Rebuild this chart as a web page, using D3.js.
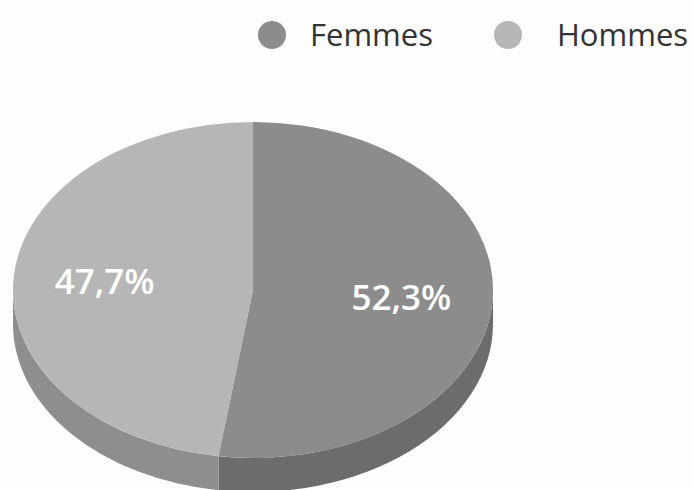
<!doctype html>
<html>
  <head>
    <meta charset="utf-8">
    <script src="https://d3js.org/d3.v7.min.js"></script>
    <style>
      body { margin: 0; background: #fdfdfd; }
      svg { display: block; }
      text { font-family: "Open Sans", "Noto Sans", sans-serif; }
    </style>
  </head>
  <body>
    <svg id="chart" width="694" height="490"></svg>
    <script>
      // data
      var categories = ["Femmes", "Hommes"];
      var values = [52.3, 47.7];
      var labels = ["52,3%", "47,7%"];

      var topColours = ["#8c8c8c", "#b6b6b6"];
      var wallColours = ["#6c6c6c", "#8e8e8e"];

      var svg = d3.select("svg#chart");

      // ellipse of the top face
      var cx = 253, cy = 290, rx = 240, ry = 168, depth = 34;

      function pt(a, dy) {
        return [cx + rx * Math.sin(a), cy - ry * Math.cos(a) + (dy || 0)];
      }

      var pie = d3.pie().sort(null).value(d => d.value);
      var slices = pie(categories.map((c, i) => ({ name: c, value: values[i], label: labels[i], i: i })));

      // side wall (only the front half is visible)
      var walls = svg.append("g");
      slices.forEach(function(d) {
        var s = Math.max(d.startAngle, Math.PI / 2);
        var e = Math.min(d.endAngle, 3 * Math.PI / 2);
        if (e <= s) return;
        var p0 = pt(s), p1 = pt(e), p2 = pt(e, depth), p3 = pt(s, depth);
        var path = "M" + p0 + " A" + rx + "," + ry + " 0 0 1 " + p1 +
                   " L" + p2 + " A" + rx + "," + ry + " 0 0 0 " + p3 + " Z";
        walls.append("path")
          .attr("d", path)
          .attr("fill", wallColours[d.data.i]);
      });

      // top face
      var tops = svg.append("g");
      tops.selectAll("path")
        .data(slices)
        .enter()
        .append("path")
        .attr("d", function(d) {
          var a = pt(d.startAngle), b = pt(d.endAngle);
          var large = (d.endAngle - d.startAngle) > Math.PI ? 1 : 0;
          return "M" + cx + "," + cy + " L" + a + " A" + rx + "," + ry + " 0 " + large + " 1 " + b + " Z";
        })
        .attr("fill", d => topColours[d.data.i]);

      // percentage labels
      tops.selectAll("text")
        .data(slices)
        .enter()
        .append("text")
        .attr("x", d => pt((d.startAngle + d.endAngle) / 2)[0] * 0.62 + cx * 0.38)
        .attr("y", d => pt((d.startAngle + d.endAngle) / 2)[1] * 0.62 + cy * 0.38 + 12)
        .attr("text-anchor", "middle")
        .attr("fill", "#ffffff")
        .style("font-size", "35px")
        .style("font-weight", "600")
        .text(d => d.data.label);

      // legend
      var legend = svg.append("g");
      var item = legend.selectAll("g")
        .data(categories)
        .enter()
        .append("g")
        .attr("transform", (d, i) => "translate(" + (272 + i * 236) + ",35)");

      item.append("circle")
        .attr("r", 14)
        .attr("fill", (d, i) => topColours[i]);

      item.append("text")
        .attr("x", (d, i) => i === 0 ? 38 : 49)
        .attr("y", 11)
        .attr("fill", "#333333")
        .style("font-size", "31px")
        .text(d => d);
    </script>
  </body>
</html>
